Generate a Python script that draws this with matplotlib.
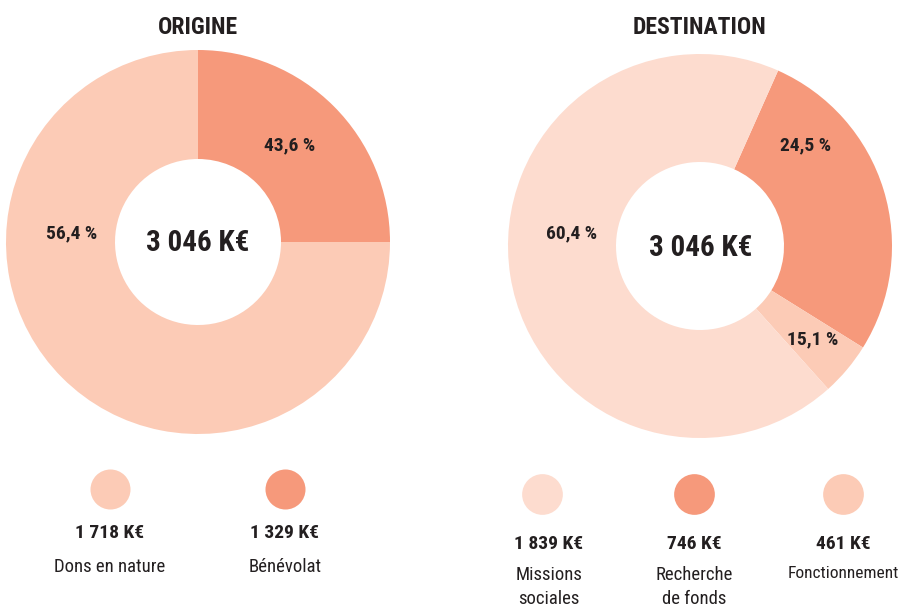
import matplotlib.pyplot as plt

# Data
origine_labels = ["Dons en nature", "Bénévolat"]
origine_keur = ["1 718 K€", "1 329 K€"]
origine_pct = ["56,4 %", "43,6 %"]
origine_share = [75, 25]          # wedge sizes as drawn in the picture
origine_colors = ["#FCCBB6", "#F6997B"]

dest_labels = ["Missions\nsociales", "Recherche\nde fonds", "Fonctionnement"]
dest_keur = ["1 839 K€", "746 K€", "461 K€"]
dest_pct = ["60,4 %", "24,5 %", "15,1 %"]
dest_share = [68.3, 27.2, 4.5]    # wedge sizes as drawn in the picture
dest_colors = ["#FDDCCF", "#F6997B", "#FCCBB6"]

total = "3 046 K€"

plt.rcParams['font.family'] = ['Roboto Condensed', 'DejaVu Sans']
ink = "#231F20"

W, H = 898, 610
fig = plt.figure(figsize=(W / 100, H / 100), dpi=100)
ax = fig.add_axes([0, 0, 1, 1])


def Y(py):
    return H - py


# Left donut (clockwise from 12 o'clock, Bénévolat first)
ax.pie(origine_share[::-1], colors=origine_colors[::-1], center=(198, Y(242)), radius=192,
       startangle=90, counterclock=False, wedgeprops=dict(width=109, linewidth=0))
# Right donut
ax.pie([dest_share[1], dest_share[2], dest_share[0]],
       colors=[dest_colors[1], dest_colors[2], dest_colors[0]],
       center=(700, Y(246)), radius=192, startangle=66, counterclock=False,
       wedgeprops=dict(width=108, linewidth=0))
ax.set_xlim(0, W)
ax.set_ylim(0, H)
ax.set_aspect('equal')
ax.axis('off')

# Titles and totals
ax.text(198, Y(27), "ORIGINE", ha='center', va='center', fontsize=17, fontweight='bold', color=ink)
ax.text(700, Y(27), "DESTINATION", ha='center', va='center', fontsize=17, fontweight='bold', color=ink)
ax.text(198, Y(243), total, ha='center', va='center', fontsize=21, fontweight='bold', color=ink)
ax.text(701, Y(248), total, ha='center', va='center', fontsize=21, fontweight='bold', color=ink)

# Percent labels
for (x, y), t in zip([(72, 233), (290, 145)], origine_pct):
    ax.text(x, Y(y), t, ha='center', va='center', fontsize=14, fontweight='bold', color=ink)
for (x, y), t in zip([(572, 233), (806, 145), (813, 339)], dest_pct):
    ax.text(x, Y(y), t, ha='center', va='center', fontsize=14, fontweight='bold', color=ink)

# Legends
for x, c, v, lab in zip([110, 285], origine_colors, origine_keur, origine_labels):
    ax.scatter([x], [Y(489)], s=830, color=c, linewidths=0)
    ax.text(x, Y(533), v, ha='center', va='center', fontsize=14, fontweight='bold', color=ink)
    ax.text(x, Y(567), lab, ha='center', va='center', fontsize=13.5, color=ink)

for x, c, v, lab in zip([542, 694, 843], dest_colors, dest_keur, dest_labels):
    ax.scatter([x], [Y(494)], s=860, color=c, linewidths=0)
    tx = x + 7 if x == 542 else x
    ax.text(tx, Y(544), v, ha='center', va='center', fontsize=14, fontweight='bold', color=ink)
    ax.text(tx, Y(566), lab, ha='center', va='top', fontsize=12.5 if x == 843 else 13.5,
            color=ink, linespacing=1.45)

fig.savefig("out.png", dpi=100)
